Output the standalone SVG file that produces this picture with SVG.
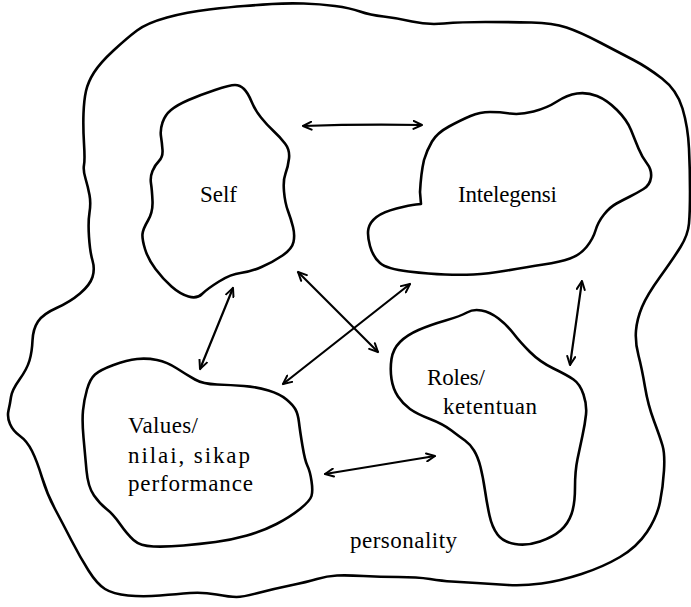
<svg xmlns="http://www.w3.org/2000/svg" width="691" height="607" viewBox="0 0 691 607">
<style>
.blob{fill:none;stroke:#000;stroke-width:2.6;stroke-linejoin:round;stroke-linecap:round}
.arr{fill:none;stroke:#000;stroke-width:2.2;stroke-linecap:round;marker-start:url(#h);marker-end:url(#h)}
text{font-family:"Liberation Serif","Times New Roman",serif;font-size:23px;fill:#000}
</style>
<defs>
<marker id="h" viewBox="0 0 10 10" refX="9.5" refY="5" markerWidth="10" markerHeight="10" markerUnits="userSpaceOnUse" orient="auto-start-reverse">
<path d="M1,1 L9.5,5 L1,9" fill="none" stroke="#000" stroke-width="2" stroke-linecap="round" stroke-linejoin="round"/>
</marker>
</defs>
<g id="personality">
<path class="blob" d="M83.5,113.5 Q84,100 86,91 Q88,82 94,72.5 Q100,63 113.5,50.5 Q127,38 137,30.5 Q147,23 167,17.5 Q187,12 209,9.5 Q231,7 244,6 Q257,5 272,4 Q287,3 303.5,3.5 Q320,4 335,6 Q350,8 360,11.5 Q370,15 383.5,16.5 Q397,18 412,21.5 Q427,25 444,23.5 Q461,22 485.5,22 Q510,22 531.5,22.5 Q553,23 566.5,27.5 Q580,32 600,42.5 Q620,53 633.5,60 Q647,67 662,78.5 Q677,90 682.5,108.5 Q688,127 689,148.5 Q690,170 690,191 Q690,212 689,223.5 Q688,235 680.5,247 Q673,259 660,277 Q647,295 642,307 Q637,319 636,330.5 Q635,342 638.5,355.5 Q642,369 645,387 Q648,405 654,421 Q660,437 662.5,445.5 Q665,454 664,470.5 Q663,487 660,502 Q657,517 647,532 Q637,547 620,557 Q603,567 581.5,574 Q560,581 541.5,583.5 Q523,586 508,585 Q493,584 476.5,583 Q460,582 451.5,581.5 Q443,581 430,579 Q417,577 398.5,577 Q380,577 363.5,576 Q347,575 337,575.5 Q327,576 317,579 Q307,582 290,585.5 Q273,589 258,593 Q243,597 236.5,597 Q230,597 216.5,594.5 Q203,592 190,593 Q177,594 160,595.5 Q143,597 128,595.5 Q113,594 105,589 Q97,584 88.5,570.5 Q80,557 71.5,540.5 Q63,524 55,509 Q47,494 42,477.5 Q37,461 32,451 Q27,441 20,436 Q13,431 10,424 Q7,417 8.5,410.5 Q10,404 11,397 Q12,390 19.5,379.5 Q27,369 29.5,360.5 Q32,352 32.5,340.5 Q33,329 38,321.5 Q43,314 56.5,308 Q70,302 80,293.5 Q90,285 92.5,277 Q95,269 92.5,260.5 Q90,252 89,237 Q88,222 89.5,212.5 Q91,203 89.5,195 Q88,187 85.5,178.5 Q83,170 84,165 Q85,160 84,143.5 Q83,127 83.5,113.5 Z"/>
<text x="350" y="548" textLength="107" lengthAdjust="spacing">personality</text>
</g>
<g id="self">
<path class="blob" d="M235,85 Q240,85 244,89 Q248,93 251.5,101.5 Q255,110 261,117.5 Q267,125 273.5,131 Q280,137 285,143.5 Q290,150 289,158.5 Q288,167 285.5,173.5 Q283,180 284,191.5 Q285,203 288,211 Q291,219 293,227 Q295,235 293.5,242 Q292,249 282.5,255.5 Q273,262 261.5,267 Q250,272 240.5,273 Q231,274 219,281.5 Q207,289 202,294 Q197,299 188.5,296.5 Q180,294 171.5,286.5 Q163,279 155.5,269 Q148,259 145,249 Q142,239 142.5,234 Q143,229 148,220.5 Q153,212 152.5,201 Q152,190 151,183.5 Q150,177 152.5,171 Q155,165 159,161 Q163,157 162.5,150 Q162,143 161,136.5 Q160,130 162.5,122.5 Q165,115 171,110 Q177,105 188.5,100 Q200,95 215,90 Q230,85 235,85 Z"/>
<text x="200" y="202" textLength="37" lengthAdjust="spacing">Self</text>
</g>
<g id="intelegensi">
<path class="blob" d="M449,126.5 Q461,120 470.5,116 Q480,112 490,112 Q500,112 510,113.5 Q520,115 533.5,111.5 Q547,108 557,101.5 Q567,95 577,93.5 Q587,92 597,96 Q607,100 617,110 Q627,120 631,130 Q635,140 638.5,148.5 Q642,157 647,163.5 Q652,170 651,177.5 Q650,185 643.5,189 Q637,193 630,196.5 Q623,200 616.5,203.5 Q610,207 604,214.5 Q598,222 595.5,230.5 Q593,239 586.5,247 Q580,255 570,258.5 Q560,262 543.5,264.5 Q527,267 507,270.5 Q487,274 473.5,274.5 Q460,275 445,274.5 Q430,274 408.5,271.5 Q387,269 380,263 Q373,257 370,246 Q367,235 368.5,228.5 Q370,222 376.5,217 Q383,212 396.5,208.5 Q410,205 416,204.5 L421,204 L420,192 Q421,173 424,160 Q427,150 432,141.5 Q437,133 449,126.5 Z"/>
<text x="458" y="202" textLength="99" lengthAdjust="spacing">Intelegensi</text>
</g>
<g id="values">
<path class="blob" d="M95,374.5 Q100,370 113.5,365 Q127,360 137,359 Q147,358 157,360 Q167,362 177,368.5 Q187,375 195,379.5 Q203,384 217,384.5 Q231,385 244,386 Q257,387 268.5,390.5 Q280,394 286.5,399.5 Q293,405 295.5,409.5 Q298,414 299,422.5 Q300,431 302.5,446 Q305,461 307.5,466 Q310,471 311.5,481 Q313,491 311.5,496 Q310,501 300,509 Q290,517 276.5,524 Q263,531 247,535.5 Q231,540 215.5,542 Q200,544 183.5,545.5 Q167,547 153.5,546.5 Q140,546 133.5,540 Q127,534 120,524 Q113,514 106.5,509 Q100,504 94,495.5 Q88,487 86.5,470.5 Q85,454 83.5,437.5 Q82,421 83,410.5 Q84,400 87,389.5 Q90,379 95,374.5 Z"/>
<text x="128" y="433" textLength="70" lengthAdjust="spacing">Values/</text>
<text x="128" y="463" textLength="122" lengthAdjust="spacing">nilai, sikap</text>
<text x="128" y="491" textLength="125" lengthAdjust="spacing">performance</text>
</g>
<g id="roles">
<path class="blob" d="M467,312.5 Q473,309 481.5,310.5 Q490,312 498.5,318.5 Q507,325 513.5,333.5 Q520,342 530,352 Q540,362 553.5,368.5 Q567,375 573.5,379.5 Q580,384 583.5,394.5 Q587,405 586,414.5 Q585,424 582.5,435.5 Q580,447 577.5,459 Q575,471 575,487.5 Q575,504 571.5,514 Q568,524 560.5,530.5 Q553,537 540,541.5 Q527,546 515,544 Q503,542 497.5,534.5 Q492,527 489.5,515.5 Q487,504 485,490.5 Q483,477 480.5,467 Q478,457 474,450.5 Q470,444 465,440.5 Q460,437 451.5,430.5 Q443,424 430,419 Q417,414 410,409 Q403,404 398,396.5 Q393,389 391.5,379 Q390,369 391.5,359 Q393,349 400,342 Q407,335 418.5,330 Q430,325 445.5,320.5 Q461,316 467,312.5 Z"/>
<text x="427" y="385" textLength="58" lengthAdjust="spacing">Roles/</text>
<text x="443" y="414" textLength="94" lengthAdjust="spacing">ketentuan</text>
</g>
<g id="connectors">
<path class="arr" d="M303,126 Q360,124 422,125"/>
<path class="arr" d="M233,288 L200,369"/>
<path class="arr" d="M298,272 L378,352"/>
<path class="arr" d="M410,284 L283,384"/>
<path class="arr" d="M582,281 L570,365"/>
<path class="arr" d="M325,474 L435,456"/>
</g>
</svg>
